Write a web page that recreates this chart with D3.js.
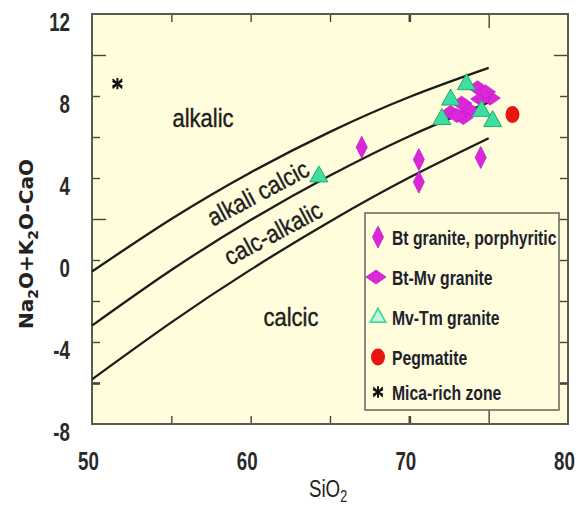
<!DOCTYPE html>
<html>
<head>
<meta charset="utf-8">
<script src="https://cdn.jsdelivr.net/npm/d3@7"></script>
<style>
  html, body { margin: 0; padding: 0; background: #ffffff; }
  svg { display: block; }
</style>
</head>
<body>
<script>
// ---- Data -------------------------------------------------------------
// MALI boundary curves (Na2O+K2O-CaO vs SiO2)
const boundarySiO2 = [50, 55, 60, 65, 70, 75];
const alkalicBoundary = [-0.56, 2.0, 4.27, 6.25, 7.95, 9.37];
const alkaliCalcicBoundary = [-3.2, -0.49, 1.95, 4.12, 6.04, 7.69];
const calcAlkalicBoundary = [-5.82, -3.04, -0.47, 1.88, 4.02, 5.94];

// Sample groups
const btPorphSiO2 = [67.0, 70.6, 70.6, 74.5];
const btPorphMali = [5.5, 4.9, 3.8, 5.0];

const btMvSiO2 = [74.3, 75.1, 73.3, 72.6, 73.8, 73.4, 74.5, 73.0, 74.8];
const btMvMali = [8.4, 7.9, 7.65, 7.2, 7.3, 6.95, 7.85, 7.05, 8.2];

const mvTmSiO2 = [64.3, 73.6, 72.6, 72.05, 74.55, 75.25];
const mvTmMali = [4.1, 8.6, 7.85, 6.9, 7.3, 6.8];

const pegmatiteSiO2 = [76.5];
const pegmatiteMali = [7.1];

const micaSiO2 = [51.6];
const micaMali = [8.6];

// Axis ticks and labels
const xTickValues = [55, 60, 65, 70, 75];
const xLabelValues = [50, 60, 70, 80];
const yTickValues = [10, 8, 6, 4, 2, 0, -2, -4, -6];
const yLabelValues = [12, 8, 4, 0, -4, -8];

const regionNames = ["alkalic", "alkali calcic", "calc-alkalic", "calcic"];
const legendNames = ["Bt granite, porphyritic", "Bt-Mv granite", "Mv-Tm granite", "Pegmatite", "Mica-rich zone"];

// ---- Layout -----------------------------------------------------------
const W = 585, H = 505;
const plot = { left: 92, right: 568, top: 14, bottom: 424 };
const bg = "#fffddc";
const magenta = "#dc26dc";
const mint = "#3ede9e";
const narrowX = 0.72;

const svg = d3.select("body").append("svg").attr("width", W).attr("height", H);

const x = d3.scaleLinear().domain([50, 80]).range([plot.left, plot.right]);
const y = d3.scaleLinear().domain([-8, 12]).range([plot.bottom, plot.top]);

// plot background
svg.append("rect")
  .attr("x", plot.left).attr("y", plot.top)
  .attr("width", plot.right - plot.left).attr("height", plot.bottom - plot.top)
  .attr("fill", bg);

// ---- Axes (inward ticks on all four sides) ----------------------------
const longTicks = new Set([10, 2, 75]);
function styleTicks(g, orient) {
  g.select(".domain").remove();
  g.selectAll(".tick line")
    .attr("stroke", "#444")
    .attr("stroke-width", d => (d === 70 || d === -6) ? 2.6 : 1.4)
    .each(function (d) {
      const len = longTicks.has(d) ? 14 : 8;
      const sel = d3.select(this);
      if (orient === "left") sel.attr("x2", len);
      if (orient === "right") sel.attr("x2", -len);
      if (orient === "top") sel.attr("y2", len);
      if (orient === "bottom") sel.attr("y2", -len);
    });
}
svg.append("g").attr("transform", `translate(${plot.left},0)`)
  .call(d3.axisLeft(y).tickValues(yTickValues).tickFormat(""))
  .call(g => styleTicks(g, "left"));
svg.append("g").attr("transform", `translate(${plot.right},0)`)
  .call(d3.axisRight(y).tickValues(yTickValues).tickFormat(""))
  .call(g => styleTicks(g, "right"));
svg.append("g").attr("transform", `translate(0,${plot.top})`)
  .call(d3.axisTop(x).tickValues(xTickValues).tickFormat(""))
  .call(g => styleTicks(g, "top"));
svg.append("g").attr("transform", `translate(0,${plot.bottom})`)
  .call(d3.axisBottom(x).tickValues(xTickValues).tickFormat(""))
  .call(g => styleTicks(g, "bottom"));

// tick labels, condensed heavy sans
const labelFont = "'Liberation Sans', Arial, sans-serif";
svg.append("g").attr("transform", `translate(${plot.left},0)`)
  .call(d3.axisLeft(y).tickValues(yLabelValues).tickSize(0).tickFormat(d3.format("d")))
  .call(g => {
    g.select(".domain").remove();
    g.selectAll("text")
      .attr("font-family", labelFont).attr("font-size", 26).attr("font-weight", "bold").attr("fill", "#2a2a2a")
      .attr("text-anchor", "end")
      .attr("dy", null)
      .attr("x", -22 / narrowX).attr("y", 16)
      .attr("transform", `scale(${narrowX},1)`)
      .text(d => d < 0 ? "-" + Math.abs(d) : d);
  });
svg.append("g").attr("transform", `translate(0,${plot.bottom})`)
  .call(d3.axisBottom(x).tickValues(xLabelValues).tickSize(0).tickFormat(d3.format("d")))
  .call(g => {
    g.select(".domain").remove();
    g.selectAll("text")
      .attr("font-family", labelFont).attr("font-size", 26).attr("font-weight", "bold").attr("fill", "#2a2a2a")
      .attr("text-anchor", "middle")
      .attr("dy", null)
      .attr("x", -4 / narrowX).attr("y", 46)
      .attr("transform", `scale(${narrowX},1)`);
  });

// frame
svg.append("rect")
  .attr("x", plot.left).attr("y", plot.top)
  .attr("width", plot.right - plot.left).attr("height", plot.bottom - plot.top)
  .attr("fill", "none").attr("stroke", "#5a5a50").attr("stroke-width", 2);

// ---- Axis titles --------------------------------------------------------
const xTitle = svg.append("text")
  .attr("transform", `translate(328,497) scale(0.78,1)`)
  .attr("text-anchor", "middle")
  .attr("font-family", labelFont).attr("font-size", 24).attr("fill", "#222");
xTitle.append("tspan").text("SiO");
xTitle.append("tspan").attr("font-size", 16).attr("dy", 5).text("2");

const yTitle = svg.append("text")
  .attr("transform", `translate(33,244) rotate(-90)`)
  .attr("text-anchor", "middle")
  .attr("font-family", "'DejaVu Sans', sans-serif").attr("font-weight", "bold")
  .attr("font-size", 20).attr("fill", "#222");
[["Na", 0], ["2", 1], ["O+K", 0], ["2", 1], ["O-CaO", 0]].reduce((prev, [t, sub]) => {
  yTitle.append("tspan")
    .attr("font-size", sub ? 14 : 20)
    .attr("dy", sub === prev ? 0 : (sub ? 5 : -5))
    .text(t);
  return sub;
}, 0);

// ---- Boundary curves ---------------------------------------------------
const curve = d3.line().x(d => x(d[0])).y(d => y(d[1])).curve(d3.curveNatural);
[alkalicBoundary, alkaliCalcicBoundary, calcAlkalicBoundary].forEach(vals => {
  svg.append("path")
    .attr("d", curve(boundarySiO2.map((s, i) => [s, vals[i]])))
    .attr("fill", "none").attr("stroke", "#1c1c18").attr("stroke-width", 2.3);
});

// ---- Field names --------------------------------------------------------
const fieldFont = "'Liberation Sans', Arial, sans-serif";
const fieldPos = [
  { cx: 203, cy: 118, rot: 0 },
  { cx: 258, cy: 193, rot: -28 },
  { cx: 273, cy: 233, rot: -28 },
  { cx: 291, cy: 317, rot: 0 }
];
regionNames.forEach((name, i) => {
  const p = fieldPos[i];
  svg.append("text")
    .attr("transform", `translate(${p.cx},${p.cy}) rotate(${p.rot}) scale(0.88,1)`)
    .attr("text-anchor", "middle").attr("dy", "0.35em")
    .attr("font-family", fieldFont).attr("font-size", 25).attr("fill", "#1e1e1e")
    .attr("stroke", "#1e1e1e").attr("stroke-width", 0.4)
    .text(name);
});

// ---- Marker shapes -------------------------------------------------------
const shape = pts => "M" + pts.map(p => p.join(",")).join("L") + "Z";
const vDiamond = shape([[0, -11], [5.5, 0], [0, 11], [-5.5, 0]]);
const hDiamond = shape([[-10, 0], [0, -7], [10, 0], [0, 7]]);
const triangle = shape([[0, -10], [9, 6], [-9, 6]]);
const asterisk = d3.symbol(d3.symbolAsterisk, 90)();
const times = d3.symbol(d3.symbolTimes, 60)();

function drawPoints(sx, sy, draw) {
  sx.forEach((s, i) => draw(svg.append("g").attr("transform", `translate(${x(s)},${y(sy[i])})`)));
}
const drawVDiamond = g => g.append("path").attr("d", vDiamond).attr("fill", magenta).attr("stroke", "#c21ac2").attr("stroke-width", 0.8);
const drawHDiamond = g => g.append("path").attr("d", hDiamond).attr("fill", magenta).attr("stroke", "#c21ac2").attr("stroke-width", 0.8);
const drawTriangle = g => g.append("path").attr("d", triangle).attr("fill", mint).attr("stroke", "#22a874").attr("stroke-width", 1);
const drawCircle = g => g.append("ellipse").attr("rx", 7).attr("ry", 8.5).attr("fill", "#e8160e");
const drawStar = g => {
  g.append("path").attr("d", asterisk).attr("fill", "none").attr("stroke", "#111").attr("stroke-width", 2);
  g.append("path").attr("d", times).attr("fill", "none").attr("stroke", "#111").attr("stroke-width", 1.6);
};

drawPoints(btPorphSiO2, btPorphMali, drawVDiamond);
drawPoints(btMvSiO2, btMvMali, drawHDiamond);
drawPoints(mvTmSiO2, mvTmMali, drawTriangle);
drawPoints(pegmatiteSiO2, pegmatiteMali, drawCircle);
drawPoints(micaSiO2, micaMali, drawStar);

// ---- Legend ------------------------------------------------------------
const legend = svg.append("g");
legend.append("rect")
  .attr("x", 365).attr("y", 213).attr("width", 194).attr("height", 197)
  .attr("fill", bg).attr("stroke", "#6c6c66").attr("stroke-width", 1.6);
const legendRows = [237, 277, 317, 357, 392];
const legendDraw = [
  drawVDiamond,
  drawHDiamond,
  g => g.append("path").attr("d", triangle).attr("transform", "scale(0.85)")
        .attr("fill", "#c9f3df").attr("stroke", mint).attr("stroke-width", 2.2),
  drawCircle,
  drawStar
];
legendNames.forEach((name, i) => {
  const g = legend.append("g").attr("transform", `translate(${i === 1 ? 376 : 378},${legendRows[i]})`);
  legendDraw[i](g);
  legend.append("text")
    .attr("transform", `translate(392,${legendRows[i] + 8}) scale(0.75,1)`)
    .attr("font-family", labelFont).attr("font-size", 21).attr("font-weight", "bold").attr("fill", "#22222e")
    .text(name);
});
</script>
</body>
</html>
